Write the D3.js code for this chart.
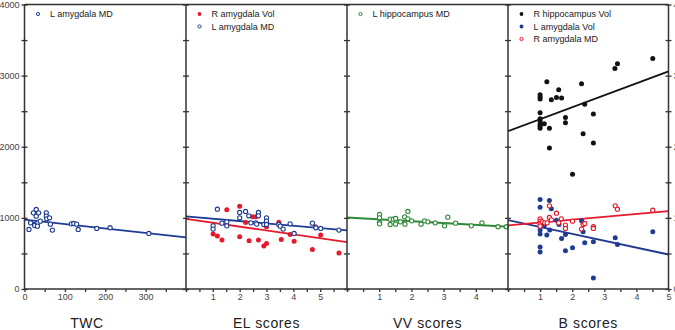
<!DOCTYPE html>
<html>
<head>
<meta charset="utf-8">
<script src="https://cdn.jsdelivr.net/npm/d3@7"></script>
<style>
  body { margin: 0; background: #fff; }
  svg { display: block; font-family: "Liberation Sans", Arial, sans-serif; }
</style>
</head>
<body>
<div id="chart-container"></div>
<script>

// --- data ---
const yTicks = [0, 1000, 2000, 3000, 4000];

// TWC panel
const twcLAmygMD = [[11,837],[15,930],[22,1071],[26,907],[29,1118],[29,1024],[30,893],[25,893],[35,1071],[33,930],
    [39,954],[32,884],[54,1071],[54,1024],[55,987],[62,1001],[64,912],[69,828],[116,916],[122,921],[129,912],
    [133,837],[179,851],[212,861],[308,781]];
const twcFit = [[0, 975], [400, 725]];

// EL panel
const elRAmygVol = [[1.01,772],[1.17,744],[1.34,688],[1.52,1113],[2.0,1165],[2.0,734],[2.22,935],[2.35,678],
    [2.48,1015],[2.6,1015],[2.7,688],[2.9,603],[3.0,641],[3.0,875],[3.46,940],[3.55,697],[3.88,767],[4.03,673],
    [4.71,557],[4.82,875],[5.02,758],[5.7,505]];
const elLAmygMD = [[1.17,1122],[1.01,888],[1.01,842],[1.34,926],[1.52,944],[1.52,888],[2.0,1076],[2.0,1001],
    [2.22,1090],[2.34,1029],[2.42,930],[2.6,930],[2.63,912],[2.7,1076],[2.7,1029],[2.9,907],[3.0,1001],[3.0,954],
    [3.0,907],[3.46,907],[3.51,884],[3.62,842],[3.88,916],[4.03,781],[4.71,926],[4.84,861],[5.02,851],[5.7,828]];
const elRFit = [[0, 985], [6, 660]];
const elLFit = [[0, 1020], [6, 825]];

// VV panel
const vvLHippMD = [[1.01,1048],[1.01,1001],[1.01,935],[1.01,916],[1.34,982],[1.34,907],[1.44,982],[1.51,991],
    [1.51,912],[1.66,944],[1.79,1015],[1.8,912],[1.89,1090],[1.89,987],[2.01,958],[2.3,912],[2.41,958],[2.51,944],
    [2.74,930],[3.03,888],[3.13,1010],[3.375,926],[3.86,888],[4.19,930],[4.69,875],[4.95,875]];
const vvFit = [[0, 1005], [5, 875]];

// B panel
const bRHippVol = [[1.21,2914],[1.0,2731],[1.0,2698],[1.0,2670],[1.0,2479],[1.0,2395],[1.0,2362],[1.0,2315],
    [1.0,2287],[1.0,2259],[1.13,2325],[1.29,2259],[1.29,1983],[1.35,2661],[1.51,2694],[1.58,2801],[1.67,2684],
    [1.79,2413],[1.79,2338],[2.29,2886],[2.34,2184],[2.39,2596],[2.66,2460],[2.66,2053],[3.33,3101],[3.41,3166],
    [4.51,3241],[2.01,1613]];
const bLAmygVol = [[1.0,1258],[1.0,1150],[1.0,828],[1.0,772],[1.0,589],[1.0,519],[1.29,1244],[1.35,1127],
    [1.13,888],[1.21,758],[1.3,828],[1.51,968],[1.59,907],[1.67,711],[1.79,767],[1.79,538],[2.01,580],[2.29,958],
    [2.34,804],[2.39,650],[2.66,664],[2.66,154],[3.34,720],[3.41,627],[4.51,804]];
const bRAmygMD = [[1.0,987],[1.0,954],[1.0,921],[1.0,884],[1.07,944],[1.14,930],[1.22,930],[1.29,1169],
    [1.29,1006],[1.35,973],[1.51,1066],[1.58,930],[1.66,987],[1.79,898],[1.79,851],[2.01,954],[2.29,842],
    [2.34,907],[2.39,921],[2.66,875],[2.66,851],[3.34,1169],[3.41,1122],[4.51,1108]];
const bBlackFit = [[0, 2220], [5, 3060]];
const bBlueFit = [[0, 970], [5, 485]];
const bRedFit = [[0, 895], [5, 1095]];

const panelTitles = ["TWC", "EL scores", "VV scores", "B scores"];
const xDomains = [[0, 400], [0, 6], [0, 5], [0, 5]];
const xMinorTicks = [d3.range(0, 401, 50), d3.range(0, 6.01, 0.5), d3.range(0, 5.01, 0.5), d3.range(0, 5.01, 0.5)];
const xLabelTicks = [[0, 100, 200, 300], [1, 2, 3, 4, 5], [1, 2, 3, 4], [1, 2, 3, 4, 5]];

const BLUE = "#203c92", RED = "#e5192b", GREEN = "#2f8a37", BLACK = "#111";

const panels = [
    { series: [{ pts: twcLAmygMD, color: BLUE, open: true, name: "L amygdala MD" }],
      fits: [{ pts: twcFit, color: BLUE }] },
    { series: [{ pts: elRAmygVol, color: RED, open: false, name: "R amygdala Vol" },
               { pts: elLAmygMD, color: BLUE, open: true, name: "L amygdala MD" }],
      fits: [{ pts: elRFit, color: RED }, { pts: elLFit, color: BLUE }] },
    { series: [{ pts: vvLHippMD, color: GREEN, open: true, name: "L hippocampus MD" }],
      fits: [{ pts: vvFit, color: GREEN }] },
    { series: [{ pts: bRHippVol, color: BLACK, open: false, name: "R hippocampus Vol" },
               { pts: bLAmygVol, color: BLUE, open: false, name: "L amygdala Vol" },
               { pts: bRAmygMD, color: RED, open: true, name: "R amygdala MD" }],
      fits: [{ pts: bBlackFit, color: BLACK }, { pts: bBlueFit, color: BLUE }, { pts: bRedFit, color: RED }] }
];

// --- layout ---
const svgWidth = 675, svgHeight = 330;
const bounds = [24.5, 186, 347, 508, 668.5];
const plotTop = 4.5, plotBottom = 289;
const FRAME = "#333";

const svg = d3.select("#chart-container")
    .append("svg")
    .attr("width", svgWidth)
    .attr("height", svgHeight);

const scaleY = d3.scaleLinear().domain([0, 4000]).range([plotBottom, plotTop]);
const yMinor = d3.range(0, 4001, 500);

// left axis labels
svg.append("g")
    .attr("transform", `translate(${bounds[0]},0)`)
    .call(d3.axisLeft(scaleY).tickValues(yMinor).tickSize(3).tickPadding(2)
        .tickFormat(d => yTicks.includes(d) ? d : ""))
    .call(g => g.select(".domain").remove())
    .call(g => g.selectAll("line").attr("stroke", FRAME).attr("stroke-width", 1.3))
    .call(g => g.selectAll("text").attr("font-size", "9px").attr("fill", "#444").attr("font-family", null));

// right axis labels (cut off by the edge)
svg.append("g")
    .attr("transform", `translate(${bounds[4]},0)`)
    .call(d3.axisRight(scaleY).tickValues(yMinor).tickSize(3).tickPadding(2)
        .tickFormat(d => yTicks.includes(d) ? d : ""))
    .call(g => g.select(".domain").remove())
    .call(g => g.selectAll("line").attr("stroke", FRAME).attr("stroke-width", 1.3))
    .call(g => g.selectAll("text").attr("font-size", "9px").attr("fill", "#444").attr("font-family", null));

// inner ticks on each boundary
bounds.forEach(function(bx, i) {
    if (i > 0) {
        svg.append("g")
            .attr("transform", `translate(${bx},0)`)
            .call(d3.axisLeft(scaleY).tickValues(yMinor).tickSize(3).tickFormat(""))
            .call(g => g.select(".domain").remove())
            .call(g => g.selectAll("line").attr("stroke", FRAME).attr("stroke-width", 1.3));
    }
    if (i < bounds.length - 1) {
        svg.append("g")
            .attr("transform", `translate(${bx},0)`)
            .call(d3.axisRight(scaleY).tickValues(yMinor).tickSize(3).tickFormat(""))
            .call(g => g.select(".domain").remove())
            .call(g => g.selectAll("line").attr("stroke", FRAME).attr("stroke-width", 1.3));
    }
});

const lineGen = d3.line();

panels.forEach(function(p, i) {
    const scaleX = d3.scaleLinear().domain(xDomains[i]).range([bounds[i], bounds[i + 1]]);

    // bottom axis
    svg.append("g")
        .attr("transform", `translate(0,${plotBottom})`)
        .call(d3.axisBottom(scaleX).tickValues(xMinorTicks[i]).tickSize(3).tickPadding(2)
            .tickFormat(d => xLabelTicks[i].includes(d) ? d : ""))
        .call(g => g.select(".domain").remove())
        .call(g => g.selectAll("line").attr("stroke", FRAME).attr("stroke-width", 1.3))
        .call(g => g.selectAll("text").attr("font-size", "9px").attr("fill", "#444").attr("font-family", null));

    // axis title
    svg.append("text")
        .attr("x", i === 0 ? 87 : (bounds[i] + bounds[i + 1]) / 2)
        .attr("y", 328)
        .attr("text-anchor", "middle")
        .attr("font-size", "14px")
        .attr("letter-spacing", "0.6px")
        .attr("fill", "#222")
        .text(panelTitles[i]);

    // fit lines
    p.fits.forEach(function(f) {
        svg.append("path")
            .attr("d", lineGen(f.pts.map(d => [scaleX(d[0]), scaleY(d[1])])))
            .attr("fill", "none")
            .attr("stroke", f.color)
            .attr("stroke-width", 1.8);
    });

    // points
    p.series.forEach(function(s) {
        svg.append("g").selectAll("circle")
            .data(s.pts)
            .join("circle")
            .attr("cx", d => scaleX(d[0]))
            .attr("cy", d => scaleY(d[1]))
            .attr("r", s.open ? 2.1 : 2.5)
            .attr("fill", s.open ? "#fff" : s.color)
            .attr("stroke", s.color)
            .attr("stroke-width", s.open ? 1.1 : 0);
    });

    // legend
    p.series.forEach(function(s, j) {
        const ly = 14 + j * 12.5;
        svg.append("circle")
            .attr("cx", bounds[i] + 13.5)
            .attr("cy", ly)
            .attr("r", s.open ? 1.6 : 1.9)
            .attr("fill", s.open ? "#fff" : s.color)
            .attr("stroke", s.color)
            .attr("stroke-width", s.open ? 1 : 0);
        svg.append("text")
            .attr("x", bounds[i] + 25.5)
            .attr("y", ly + 3.2)
            .attr("font-size", "9px")
            .attr("fill", "#222")
            .text(s.name);
    });
});

// frame
svg.append("line")
    .attr("x1", bounds[0]).attr("x2", bounds[4])
    .attr("y1", plotTop).attr("y2", plotTop)
    .attr("stroke", FRAME).attr("stroke-width", 1.5);
svg.append("line")
    .attr("x1", bounds[0]).attr("x2", bounds[4])
    .attr("y1", plotBottom).attr("y2", plotBottom)
    .attr("stroke", FRAME).attr("stroke-width", 1.5);
bounds.forEach(function(bx) {
    svg.append("line")
        .attr("x1", bx).attr("x2", bx)
        .attr("y1", plotTop).attr("y2", plotBottom)
        .attr("stroke", FRAME).attr("stroke-width", 1.5);
});

</script>
</body>
</html>
